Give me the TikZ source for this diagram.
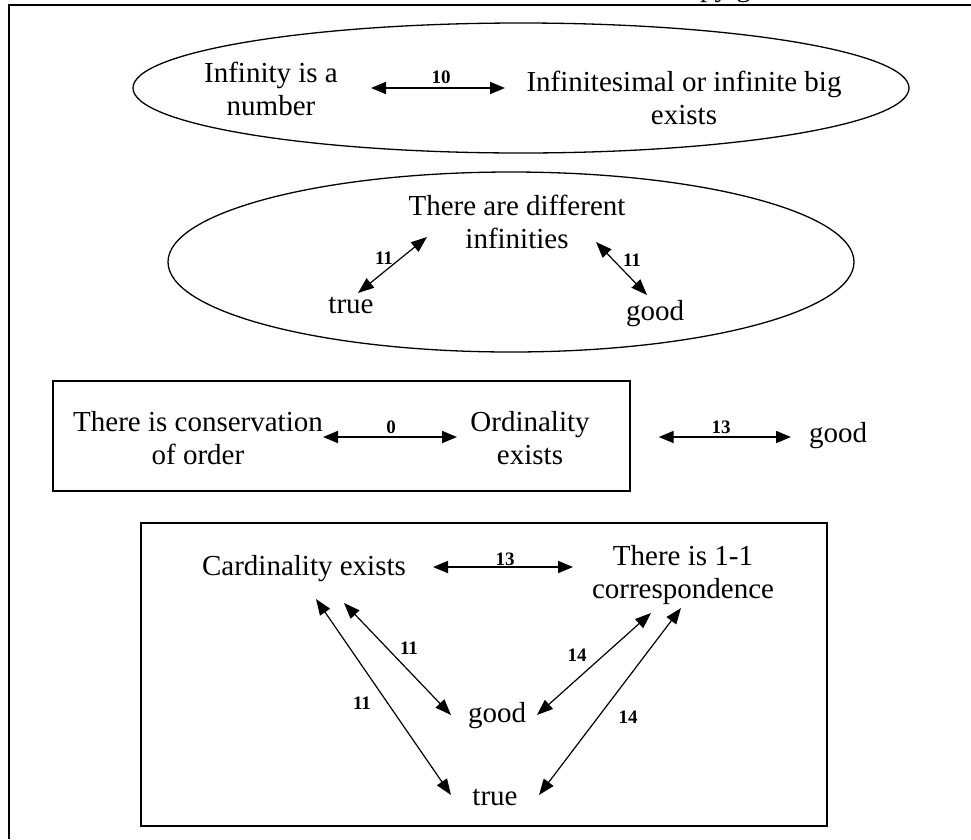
\documentclass[tikz,border=0pt]{standalone}
\usepackage{fontspec}
\setmainfont{Liberation Serif}
\usetikzlibrary{shapes.geometric,arrows.meta}
\begin{document}
\begin{tikzpicture}[x=1pt,y=-1pt,
  txt/.style={font=\fontsize{29}{33}\selectfont, align=center, inner sep=0pt},
  lbl/.style={font=\fontsize{19}{22}\selectfont\bfseries, inner sep=0pt},
  arr/.style={line width=1.8pt, {Triangle[length=15pt,width=12pt]}-{Triangle[length=15pt,width=12pt]}},
  thinarr/.style={line width=1.2pt, {Triangle[length=16pt,width=12pt]}-{Triangle[length=16pt,width=12pt]}},
  oval/.style={draw, line width=1.3pt, ellipse, inner sep=0pt},
  frame/.style={draw, line width=1.4pt, inner sep=0pt}]
\useasboundingbox (0,0) rectangle (971,839);
% outer page frame
\coordinate (fbl) at (9,839);
\coordinate (ftl) at (9,5);
\coordinate (ftr) at (971,5);
\draw[line width=2pt] (fbl) -- (ftl) -- (ftr);
\begin{scope}
\clip (0,0) rectangle (971,839);
\node[txt, anchor=base west] (top) at (700,-4) {py g};
\end{scope}
% ellipse 1
\node[oval, minimum width=776pt, minimum height=130pt] (e1) at (521,88) {};
\node[txt] (inf) at (271,88.6) {Infinity is a\\number};
\node[txt] (infs) at (684,97.6) {Infinitesimal or infinite big\\exists};
\draw[arr] ([shift={(100,-0.6)}]inf.center) -- ([shift={(-179,-9.6)}]infs.center);
\node[lbl] (l10) at (441,77) {10};
% ellipse 2
\node[oval, minimum width=686pt, minimum height=180pt] (e2) at (511,262) {};
\node[txt] (diff) at (517,221.6) {There are different\\infinities};
\node[txt, anchor=base] (true1) at (351,313) {true};
\node[txt, anchor=base] (good1) at (655,320) {good};
\draw[thinarr] ([shift={(7,-20)}]true1.base) -- ([shift={(-90,15.4)}]diff.center);
\node[lbl] (l11a) at (384,258) {11};
\draw[thinarr] ([shift={(79,20.4)}]diff.center) -- ([shift={(-8,-25)}]good1.base);
\node[lbl] (l11b) at (632,260) {11};
% box 1
\node[frame, minimum width=577pt, minimum height=110pt] (b1) at (341.5,436) {};
\node[txt] (cons) at (198,437.6) {There is conservation\\of order};
\node[txt] (ord) at (530,437.6) {Ordinality\\exists};
\draw[arr] ([shift={(125,-0.6)}]cons.center) -- ([shift={(-73,-0.6)}]ord.center);
\node[lbl] (l0) at (391,427) {0};
\node[txt, anchor=base] (good2) at (838,442) {good};
\draw[arr] ([shift={(28,1)}]b1.east) -- ([shift={(-47,-5)}]good2.base);
\node[lbl] (l13a) at (721,427) {13};
% box 2
\node[frame, minimum width=686pt, minimum height=303pt] (b2) at (484,674.5) {};
\node[txt, anchor=base] (card) at (304,575) {Cardinality exists};
\node[txt] (corr) at (683,575) {There is 1-1\\correspondence};
\node[txt, anchor=base] (good3) at (497,722) {good};
\node[txt, anchor=base] (true3) at (495,805) {true};
\draw[arr] ([shift={(129,-8)}]card.base) -- ([shift={(-110,-8)}]corr.center);
\node[lbl] (l13b) at (505,559) {13};
\draw[thinarr] ([shift={(40,28)}]card.base) -- ([shift={(-46,-7)}]good3.base);
\node[lbl] (l11c) at (409,648) {11};
\draw[thinarr] ([shift={(12,24)}]card.base) -- ([shift={(-44,-10)}]true3.base);
\node[lbl] (l11d) at (362,703) {11};
\draw[thinarr] ([shift={(40,-7)}]good3.base) -- ([shift={(-32,38)}]corr.center);
\node[lbl] (l14a) at (577,655) {14};
\draw[thinarr] ([shift={(44,-10)}]true3.base) -- ([shift={(-2,33)}]corr.center);
\node[lbl] (l14b) at (628,717) {14};
\end{tikzpicture}
\end{document}
